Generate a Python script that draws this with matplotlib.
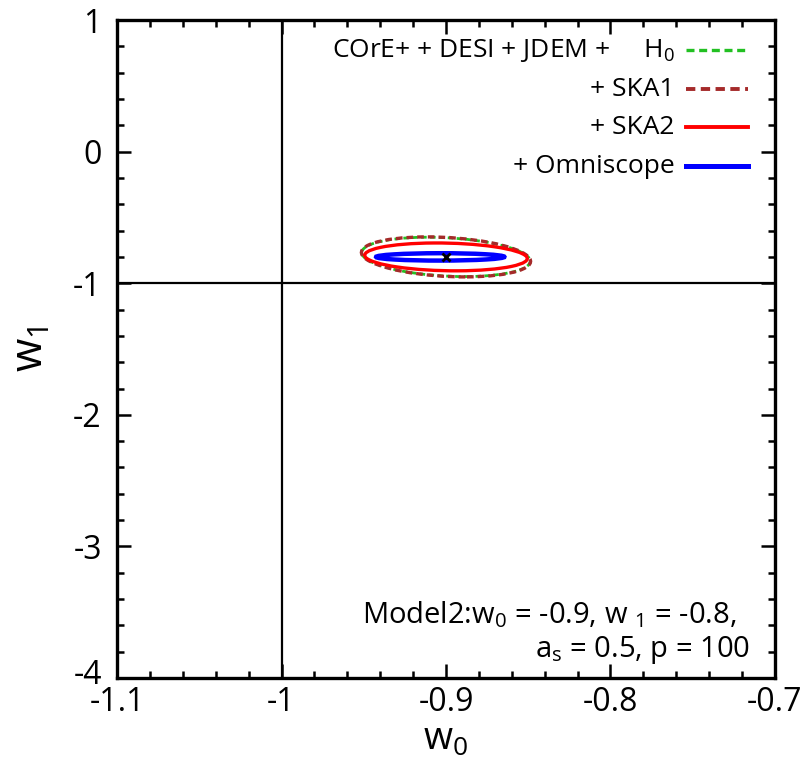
import numpy as np
import matplotlib
matplotlib.use('Agg')
import matplotlib.pyplot as plt
import matplotlib.transforms as mtransforms
from matplotlib.patches import Ellipse
from matplotlib.lines import Line2D

######################################
# data
######################################
fid_w0 = -0.9
fid_w1 = -0.8

labels = ['COrE+ + DESI + JDEM +     H$_0$', '+ SKA1', '+ SKA2', '+ Omniscope']
colors = ['#22c022', '#a52a2a', '#ff0000', '#0000ff']
styles = ['--', '--', '-', '-']
widths = [2.0, 2.4, 2.4, 3.2]
# contour centres, full widths / heights (data units), tilt in degrees
ell_x = [-0.9, -0.9, -0.9, -0.9035]
ell_y = [-0.80, -0.80, -0.80, -0.80]
ell_w = [0.0996, 0.1000, 0.0980, 0.0780]
ell_h = [0.300, 0.305, 0.212, 0.056]
ell_ang = [4.8, 4.8, 4.0, 1.0]

xticks = [-1.1, -1.0, -0.9, -0.8, -0.7]
xticklabels = ['-1.1', '-1', '-0.9', '-0.8', '-0.7']
yticks = [1, 0, -1, -2, -3, -4]
yticklabels = ['1', '0', '-1', '-2', '-3', '-4']

######################################
# style
######################################
font = ['Open Sans', 'DejaVu Sans']
plt.rcParams['font.family'] = font
plt.rcParams['mathtext.fontset'] = 'custom'
plt.rcParams['mathtext.rm'] = 'Open Sans'
plt.rcParams['mathtext.it'] = 'Open Sans'

fig = plt.figure(figsize=(8.06, 7.58), dpi=100)
ax = fig.add_axes([0.1452, 0.1055, 0.8163, 0.8681])

dash = (0, (2.0, 1.2))

# contours
for i in range(len(labels)):
    e = Ellipse((ell_x[i], ell_y[i]), ell_w[i], ell_h[i], angle=ell_ang[i],
                fill=False, edgecolor=colors[i], linewidth=widths[i], zorder=3 + i)
    e.set_linestyle(dash if styles[i] == '--' else '-')
    ax.add_patch(e)

ax.plot([fid_w0], [fid_w1], 'x', color='black', ms=6, mew=2, zorder=10)

# reference lines w0=-1, w1=-1
ax.axvline(-1, color='black', lw=1.6, zorder=2)
ax.axhline(-1, color='black', lw=1.6, zorder=2)

ax.set_xlim(-1.1, -0.7)
ax.set_ylim(-4, 1)
ax.set_xticks(xticks)
ax.set_xticklabels(xticklabels)
ax.set_yticks(yticks)
ax.set_yticklabels(yticklabels)
ax.set_xticks(np.arange(-1.1, -0.699, 0.02), minor=True)
ax.set_yticks(np.arange(-4, 1.001, 0.2), minor=True)
ax.tick_params(which='both', direction='in', top=True, right=True, width=1.8)
ax.tick_params(which='major', length=10, labelsize=23)
ax.tick_params(axis='x', which='major', pad=6)
ax.tick_params(axis='y', which='major', pad=11)
ax.tick_params(which='minor', length=5)
for s in ax.spines.values():
    s.set_linewidth(2.4)

# the -4 label sits a little high, like in the original
lab = ax.get_yticklabels()[-1]
lab.set_transform(lab.get_transform() + mtransforms.ScaledTranslation(0, 5 / 72, fig.dpi_scale_trans))

ax.set_xlabel('w$_0$', fontsize=27, labelpad=1)
ax.set_ylabel('w$_1$', fontsize=31, labelpad=14)

# key, gnuplot style: text right aligned, line sample after it
key_y = [0.954, 0.895, 0.837, 0.778]
for i in range(len(labels)):
    ax.text(0.848, key_y[i], labels[i], transform=ax.transAxes,
            ha='right', va='center', fontsize=19)
    ln = Line2D([0.865, 0.959], [key_y[i], key_y[i]], transform=ax.transAxes,
                color=colors[i], linewidth=widths[i] + 0.4)
    ln.set_linestyle((0, (2.4, 1.4)) if styles[i] == '--' else '-')
    ax.add_line(ln)

ax.text(0.942, 0.096, 'Model2:w$_0$ = -0.9, w $_1$ = -0.8,', transform=ax.transAxes,
        ha='right', va='center', fontsize=21)
ax.text(0.962, 0.042, 'a$_s$ = 0.5, p = 100', transform=ax.transAxes,
        ha='right', va='center', fontsize=21)

fig.savefig('out.png', dpi=100)
